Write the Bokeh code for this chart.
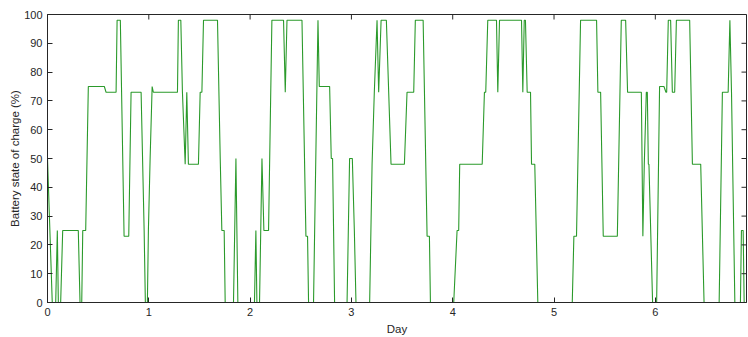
import math
from bokeh.plotting import figure
from bokeh.models import Range1d, FixedTicker
from bokeh.embed import file_html
from bokeh.resources import INLINE

# Time in days, battery state of charge in %
day = [0.000, 0.047, 0.081, 0.097, 0.107, 0.130, 0.150, 0.304, 0.321, 0.338,
       0.348, 0.377, 0.403, 0.561, 0.578, 0.677, 0.687, 0.719, 0.756, 0.802,
       0.825, 0.924, 0.954, 0.966, 0.986, 0.996, 1.013, 1.033, 1.045, 1.283,
       1.292, 1.316, 1.332, 1.359, 1.375, 1.391, 1.490, 1.507, 1.524, 1.540,
       1.678, 1.705, 1.721, 1.744, 1.754, 1.836, 1.860, 1.879, 2.043, 2.057,
       2.067, 2.093, 2.117, 2.136, 2.182, 2.215, 2.330, 2.347, 2.364, 2.512,
       2.551, 2.567, 2.577, 2.626, 2.670, 2.683, 2.785, 2.801, 2.814, 2.834,
       2.957, 2.982, 3.009, 3.029, 3.045, 3.180, 3.204, 3.226, 3.253, 3.269,
       3.293, 3.345, 3.368, 3.391, 3.523, 3.549, 3.615, 3.631, 3.708, 3.747,
       3.770, 3.780, 4.010, 4.043, 4.059, 4.069, 4.291, 4.313, 4.326, 4.346,
       4.432, 4.445, 4.462, 4.679, 4.692, 4.706, 4.718, 4.735, 4.768, 4.778,
       4.810, 4.840, 5.180, 5.196, 5.222, 5.262, 5.420, 5.433, 5.460, 5.486,
       5.625, 5.664, 5.707, 5.726, 5.862, 5.877, 5.891, 5.911, 5.921, 5.931,
       5.937, 5.973, 6.013, 6.042, 6.085, 6.105, 6.112, 6.128, 6.151, 6.168,
       6.191, 6.208, 6.339, 6.366, 6.448, 6.481, 6.630, 6.662, 6.719, 6.736,
       6.752, 6.785, 6.840, 6.850, 6.867, 6.877, 6.926]
soc = [50, 0, 0, 25, 0, 0, 25, 25, 0, 0,
       25, 25, 75, 75, 73, 73, 98, 98, 23, 23,
       73, 73, 25, 0, 0, 25, 50, 75, 73, 73,
       98, 98, 73, 48, 73, 48, 48, 73, 73, 98,
       98, 50, 25, 25, 0, 0, 50, 0, 0, 25,
       0, 0, 50, 25, 25, 98, 98, 73, 98, 98,
       23, 23, 0, 0, 98, 75, 75, 50, 50, 0,
       0, 50, 50, 25, 0, 0, 48, 73, 98, 73,
       98, 98, 73, 48, 48, 73, 73, 98, 98, 23,
       23, 0, 0, 25, 25, 48, 48, 73, 73, 98,
       98, 73, 98, 98, 73, 98, 98, 73, 73, 48,
       48, 0, 0, 23, 23, 98, 98, 73, 73, 23,
       23, 98, 98, 73, 73, 23, 48, 73, 73, 48,
       48, 0, 0, 75, 75, 73, 73, 98, 98, 73,
       73, 98, 98, 48, 48, 0, 0, 73, 73, 98,
       73, 0, 0, 25, 25, 0, 0]

x_ticks = [0, 1, 2, 3, 4, 5, 6]
y_ticks = [0, 10, 20, 30, 40, 50, 60, 70, 80, 90, 100]
X_MAX = 6.9
Y_MAX = 100

FONT = "Liberation Sans"
AX = "#262626"

p = figure(width=748, height=337, output_backend="svg", toolbar_location=None,
           x_range=Range1d(0, X_MAX), y_range=Range1d(0, Y_MAX),
           min_border_left=47, min_border_right=2, min_border_top=14,
           min_border_bottom=34)
p.grid.visible = False
p.background_fill_color = "white"
p.border_fill_color = "white"
p.outline_line_color = AX
p.outline_line_width = 1

p.line(day, soc, line_color="#2b9a2b", line_width=1.1)

# MATLAB-style box ticks on the top and right edges (half of each mark is clipped)
p.scatter(x_ticks, [Y_MAX] * len(x_ticks), marker="dash", size=10,
          angle=math.pi / 2, line_color=AX, line_width=1)
p.scatter([X_MAX] * len(y_ticks), y_ticks, marker="dash", size=10,
          line_color=AX, line_width=1)

for ax, ticks in ((p.xaxis[0], x_ticks), (p.yaxis[0], y_ticks)):
    ax.ticker = FixedTicker(ticks=ticks)
    ax.major_tick_in = 5
    ax.major_tick_out = 0
    ax.minor_tick_in = 0
    ax.minor_tick_out = 0
    ax.axis_line_color = AX
    ax.major_tick_line_color = AX
    ax.major_label_text_color = AX
    ax.major_label_text_font = FONT
    ax.major_label_text_font_size = "11px"
    ax.axis_label_text_font = FONT
    ax.axis_label_text_font_size = "11.5px"
    ax.axis_label_text_font_style = "normal"
    ax.axis_label_text_color = AX

p.xaxis[0].axis_label = "Day"
p.xaxis[0].major_label_standoff = 5
p.xaxis[0].axis_label_standoff = 4
p.yaxis[0].axis_label = "Battery state of charge (%)"
p.yaxis[0].major_label_standoff = 5
p.yaxis[0].axis_label_standoff = 0

open("out.html", "w").write(file_html(p, INLINE))
